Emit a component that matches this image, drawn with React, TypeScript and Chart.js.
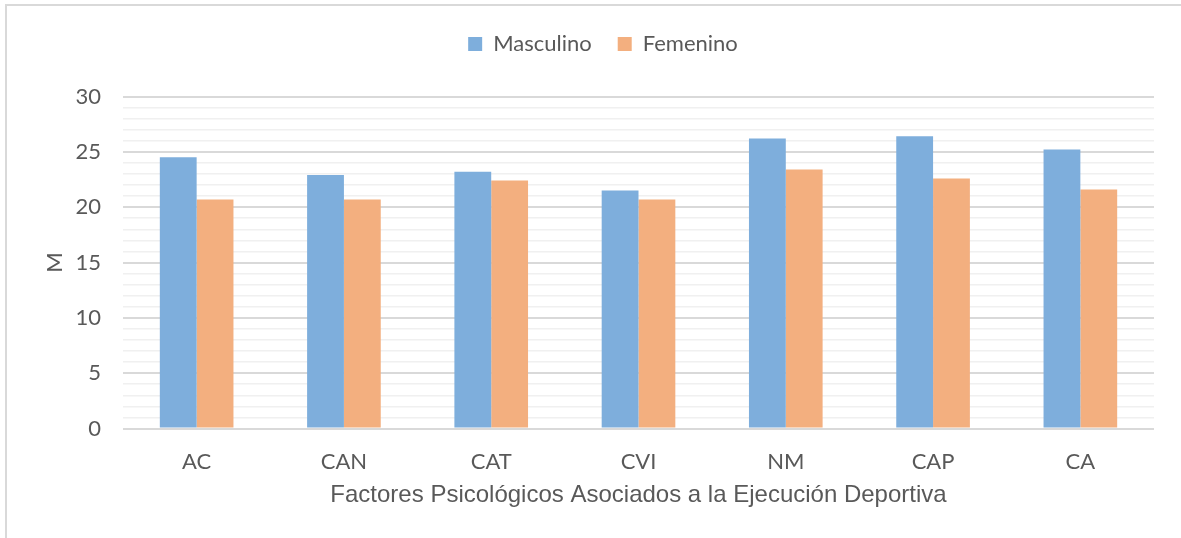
import React, { useEffect, useRef } from "react";
import { Chart, registerables } from "chart.js";

Chart.register(...registerables);

const categories = ["AC", "CAN", "CAT", "CVI", "NM", "CAP", "CA"];
const masculino = [24.5, 22.9, 23.2, 21.5, 26.2, 26.4, 25.2];
const femenino = [20.7, 20.7, 22.4, 20.7, 23.4, 22.6, 21.6];
const seriesNames = ["Masculino", "Femenino"];
const yMin = 0;
const yMax = 30;
const majorStep = 5;
const xTitle = "Factores Psicológicos Asociados a la Ejecución Deportiva";
const yTitle = "M";

const TEXT = "#595959";

const legendTweak = {
  id: "legendTweak",
  afterInit(chart: any) {
    const lg = chart.legend;
    if (!lg) return;
    const orig = lg.fit.bind(lg);
    lg.fit = function () {
      orig();
      this.height += 31.5;
    };
  },
  afterLayout(chart: any) {
    const lg = chart.legend;
    if (!lg) return;
    lg.left += 26;
    lg.right += 26;
  },
};

export default function App() {
  const ref = useRef<HTMLCanvasElement | null>(null);
  useEffect(() => {
    if (!ref.current) return;
    const chart = new Chart(ref.current, {
      type: "bar",
      data: {
        labels: categories,
        datasets: [
          {
            label: seriesNames[0],
            data: masculino,
            backgroundColor: "#7eaedc",
            categoryPercentage: 0.5,
            barPercentage: 1,
          },
          {
            label: seriesNames[1],
            data: femenino,
            backgroundColor: "#f3af7f",
            categoryPercentage: 0.5,
            barPercentage: 1,
          },
        ],
      },
      plugins: [legendTweak],
      options: {
        responsive: false,
        animation: false,
        layout: { padding: { left: 0, right: 27, top: 7, bottom: 0 } },
        plugins: {
          legend: {
            position: "top",
            labels: {
              color: TEXT,
              font: { family: "Lato", size: 22 },
              boxWidth: 14,
              boxHeight: 14,
              padding: 26,
            },
          },
          tooltip: { enabled: false },
        },
        scales: {
          x: {
            grid: { display: false },
            border: { display: false },
            ticks: { color: TEXT, font: { family: "Lato", size: 22 }, padding: 12 },
            title: {
              display: true,
              text: xTitle,
              color: TEXT,
              font: { family: "Liberation Sans", size: 24 },
              padding: { top: 0, bottom: 28 },
            },
            afterFit: (s: any) => {
              s.height = 109.5;
            },
          },
          y: {
            min: yMin,
            max: yMax,
            border: { display: false },
            grid: {
              drawTicks: false,
              color: (c: any) => (c.tick && c.tick.value % majorStep === 0 ? "#d9d9d9" : "#f0f0f0"),
              lineWidth: (c: any) => (c.tick && c.tick.value % majorStep === 0 ? 2 : 1.5),
            },
            ticks: {
              stepSize: 1,
              autoSkip: false,
              color: TEXT,
              font: { family: "Lato", size: 22 },
              padding: 22,
              callback: (v: any) => (Number(v) % majorStep === 0 ? String(v) : ""),
            },
            title: {
              display: true,
              text: yTitle,
              color: TEXT,
              font: { family: "Lato", size: 22 },
              padding: { top: 42, bottom: 0 },
            },
            afterFit: (s: any) => {
              s.width = 123;
            },
          },
        },
      },
    });
    return () => chart.destroy();
  }, []);
  return (
    <div style={{ position: "fixed", left: 0, top: 0, width: 1181, height: 538, background: "#fff" }}>
      <div
        style={{
          position: "absolute",
          left: 5,
          top: 4,
          width: 1176,
          height: 534,
          borderTop: "2px solid #d9d9d9",
          borderLeft: "2px solid #d9d9d9",
          boxSizing: "border-box",
        }}
      />
      <canvas ref={ref} width={1181} height={538} style={{ position: "absolute", left: 0, top: 0 }} />
    </div>
  );
}
